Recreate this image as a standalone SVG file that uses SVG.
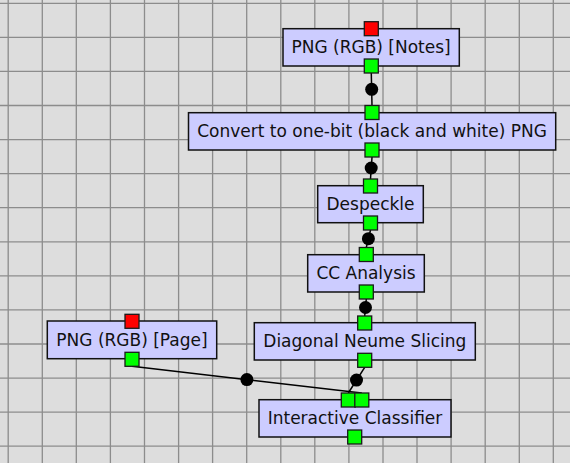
<svg xmlns="http://www.w3.org/2000/svg" width="570" height="463" viewBox="0 0 570 463">
<style>
.grid line{stroke:#8c8c8c;stroke-width:1.3}
.node rect.box{fill:#ccccff;stroke:#111;stroke-width:1.5}
.node text{font-family:"DejaVu Sans",sans-serif;font-size:17px;fill:#111;text-anchor:middle}
.in{fill:#00ff00;stroke:#1a1a1a;stroke-width:1.3}
.req{fill:#ff0000;stroke:#1a1a1a;stroke-width:1.3}
.edges line{stroke:#000;stroke-width:1.5}
.edges circle{fill:#000}
</style>
<rect width="570" height="463" fill="#dddddd"/>
<g class="grid">
<line x1="8.2" y1="0" x2="8.2" y2="463"/>
<line x1="42.3" y1="0" x2="42.3" y2="463"/>
<line x1="76.3" y1="0" x2="76.3" y2="463"/>
<line x1="110.4" y1="0" x2="110.4" y2="463"/>
<line x1="144.5" y1="0" x2="144.5" y2="463"/>
<line x1="178.6" y1="0" x2="178.6" y2="463"/>
<line x1="212.6" y1="0" x2="212.6" y2="463"/>
<line x1="246.7" y1="0" x2="246.7" y2="463"/>
<line x1="280.8" y1="0" x2="280.8" y2="463"/>
<line x1="314.8" y1="0" x2="314.8" y2="463"/>
<line x1="348.9" y1="0" x2="348.9" y2="463"/>
<line x1="383.0" y1="0" x2="383.0" y2="463"/>
<line x1="417.0" y1="0" x2="417.0" y2="463"/>
<line x1="451.1" y1="0" x2="451.1" y2="463"/>
<line x1="485.2" y1="0" x2="485.2" y2="463"/>
<line x1="519.3" y1="0" x2="519.3" y2="463"/>
<line x1="553.3" y1="0" x2="553.3" y2="463"/>
<line x1="0" y1="3.3" x2="570" y2="3.3"/>
<line x1="0" y1="37.4" x2="570" y2="37.4"/>
<line x1="0" y1="71.4" x2="570" y2="71.4"/>
<line x1="0" y1="105.5" x2="570" y2="105.5"/>
<line x1="0" y1="139.6" x2="570" y2="139.6"/>
<line x1="0" y1="173.7" x2="570" y2="173.7"/>
<line x1="0" y1="207.7" x2="570" y2="207.7"/>
<line x1="0" y1="241.8" x2="570" y2="241.8"/>
<line x1="0" y1="275.9" x2="570" y2="275.9"/>
<line x1="0" y1="309.9" x2="570" y2="309.9"/>
<line x1="0" y1="344.0" x2="570" y2="344.0"/>
<line x1="0" y1="378.1" x2="570" y2="378.1"/>
<line x1="0" y1="412.1" x2="570" y2="412.1"/>
<line x1="0" y1="446.2" x2="570" y2="446.2"/>
</g>
<g id="connectors" class="edges">
<line x1="371.3" y1="73" x2="372" y2="105.5"/>
<circle cx="371.7" cy="89.3" r="6.5"/>
<line x1="372" y1="157" x2="370.5" y2="179"/>
<circle cx="371.2" cy="168" r="6.5"/>
<line x1="370.5" y1="230" x2="366.3" y2="247.5"/>
<circle cx="368.4" cy="238.7" r="6.5"/>
<line x1="366.3" y1="299" x2="364.7" y2="316"/>
<circle cx="365.5" cy="307.5" r="6.5"/>
<line x1="364.7" y1="367.3" x2="348.3" y2="393"/>
<circle cx="356.5" cy="380.1" r="6.5"/>
<line x1="132" y1="366.3" x2="361.8" y2="393"/>
<circle cx="246.9" cy="379.6" r="6.5"/>
</g>
<g id="node-png-notes" class="node">
<rect class="box" x="283" y="28.7" width="176.3" height="37.3"/>
<text x="371.1" y="53.3">PNG (RGB) [Notes]</text>
<rect class="req" x="364.3" y="21.7" width="14" height="14"/>
<rect class="in" x="364.3" y="59" width="14" height="14"/>
</g>
<g id="node-convert" class="node">
<rect class="box" x="188.5" y="112.7" width="367.2" height="37.3"/>
<text x="372" y="137.3">Convert to one-bit (black and white) PNG</text>
<rect class="in" x="365" y="105.5" width="14" height="14"/>
<rect class="in" x="365" y="143" width="14" height="14"/>
</g>
<g id="node-despeckle" class="node">
<rect class="box" x="317.7" y="185.7" width="105.6" height="37"/>
<text x="370.5" y="210.2">Despeckle</text>
<rect class="in" x="363.5" y="179" width="14" height="14"/>
<rect class="in" x="363.5" y="216" width="14" height="14"/>
</g>
<g id="node-cc-analysis" class="node">
<rect class="box" x="307.7" y="254.7" width="116.6" height="37.3"/>
<text x="366" y="279.3">CC Analysis</text>
<rect class="in" x="359.3" y="247.5" width="14" height="14"/>
<rect class="in" x="359.3" y="285" width="14" height="14"/>
</g>
<g id="node-diagonal-neume-slicing" class="node">
<rect class="box" x="254.3" y="322.7" width="221" height="37.3"/>
<text x="364.8" y="347.3">Diagonal Neume Slicing</text>
<rect class="in" x="357.7" y="316" width="14" height="14"/>
<rect class="in" x="357.7" y="353.3" width="14" height="14"/>
</g>
<g id="node-png-page" class="node">
<rect class="box" x="47.3" y="321" width="169.4" height="37.7"/>
<text x="132" y="345.8">PNG (RGB) [Page]</text>
<rect class="req" x="125" y="314.3" width="14" height="14"/>
<rect class="in" x="125" y="352.3" width="14" height="14"/>
</g>
<g id="node-interactive-classifier" class="node">
<rect class="box" x="259" y="399.7" width="192" height="37.3"/>
<text x="355" y="424.3">Interactive Classifier</text>
<rect class="in" x="341.3" y="393" width="14" height="14"/>
<rect class="in" x="354.8" y="393" width="14" height="14"/>
<rect class="in" x="347.7" y="430" width="14" height="14"/>
</g>
</svg>
